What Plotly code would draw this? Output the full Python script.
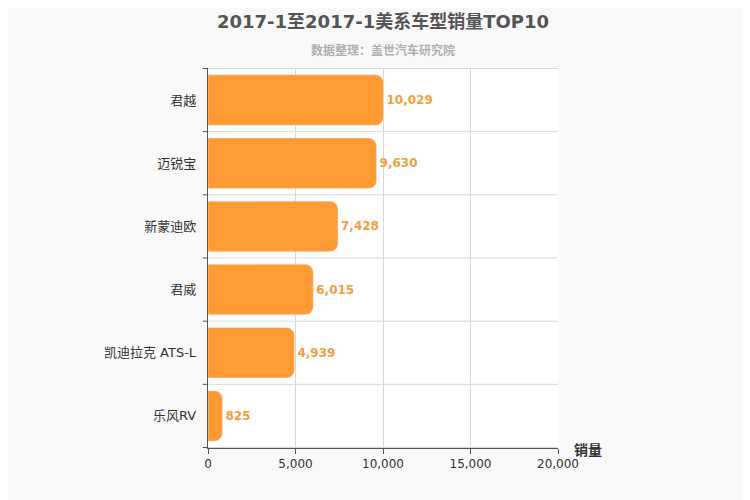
import plotly.graph_objects as go

# data, top to bottom
models = ["君越", "迈锐宝", "新蒙迪欧", "君威", "凯迪拉克 ATS-L", "乐风RV"]
sales = [10029, 9630, 7428, 6015, 4939, 825]
x_ticks = [0, 5000, 10000, 15000, 20000]

font = "DejaVu Sans, Noto Sans CJK SC"

fig = go.Figure(go.Bar(
    x=sales, y=models, orientation="h",
    marker=dict(color="#FF9B33", cornerradius=8),
    width=0.8,
    text=[f"<b>{v:,}</b>" for v in sales], textposition="outside",
    textfont=dict(color="#F0A040", size=12, family=font),
    cliponaxis=False,
))

# horizontal separators between categories
shapes = []
for k in range(len(models) + 1):
    shapes.append(dict(type="line", xref="x", yref="y", x0=0, x1=20000,
                       y0=k - 0.5, y1=k - 0.5, line=dict(color="#d8d8d8", width=1), layer="below"))
    shapes.append(dict(type="line", xref="paper", yref="y", x0=-0.015, x1=0,
                       y0=k - 0.5, y1=k - 0.5, line=dict(color="#555", width=1)))

fig.update_layout(
    width=750, height=500,
    paper_bgcolor="#f9f9f9", plot_bgcolor="#ffffff",
    margin=dict(l=200, r=200, t=60, b=60, autoexpand=False),
    font=dict(family=font, color="#333"),
    title=dict(text="<b>2017-1至2017-1美系车型销量TOP10</b>", x=0.5, y=0.985,
               xanchor="center", yanchor="top", font=dict(size=18, color="#555")),
    annotations=[
        dict(text="<b>数据整理：盖世汽车研究院</b>", xref="paper", yref="paper", x=0.5, y=1.07,
             showarrow=False, font=dict(size=12, color="#b0b0b0")),
        dict(text="<b>销量</b>", xref="paper", yref="paper", x=1.04, y=-0.005,
             xanchor="left", yanchor="middle", showarrow=False, font=dict(size=14, color="#333")),
    ],
    xaxis=dict(range=[0, 20000], tickvals=x_ticks, tickformat=",", showgrid=True,
               gridcolor="#d8d8d8", zeroline=False, tickfont=dict(size=12, color="#333"),
               ticks="outside", ticklen=5, tickcolor="#555", showline=True, linecolor="#555",
               automargin=False),
    yaxis=dict(autorange="reversed", showgrid=False, showline=True, linecolor="#555",
               tickfont=dict(size=13, color="#333"), ticksuffix="  ", automargin=False),
    shapes=shapes,
    bargap=0.2,
)

fig.write_html("out.html")
